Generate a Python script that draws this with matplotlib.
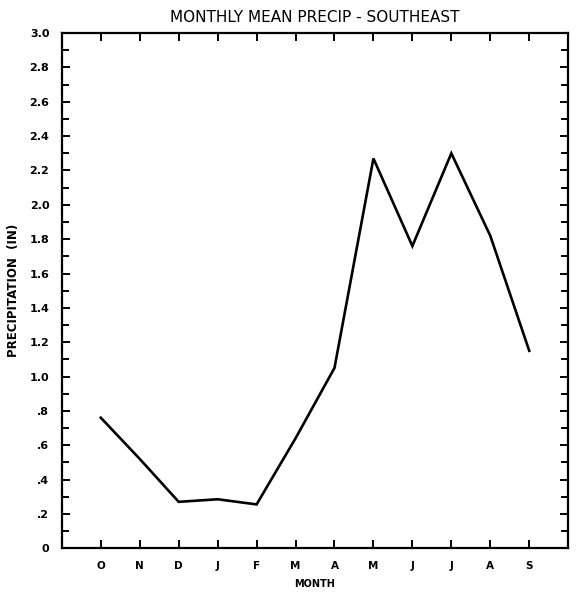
#!/usr/bin/env python3
"""Monthly mean precipitation for the southeast region, water-year order."""

import matplotlib

matplotlib.use("Agg")
import matplotlib.pyplot as plt
from matplotlib.ticker import FixedLocator, MultipleLocator

months = ["O", "N", "D", "J", "F", "M", "A", "M", "J", "J", "A", "S"]
precip_in = [0.76, 0.52, 0.27, 0.285, 0.255, 0.64, 1.05, 2.27, 1.76, 2.30, 1.82, 1.15]
y_ticks = [0.0, 0.2, 0.4, 0.6, 0.8, 1.0, 1.2, 1.4, 1.6, 1.8, 2.0, 2.2, 2.4, 2.6, 2.8, 3.0]
y_labels = ["0", ".2", ".4", ".6", ".8", "1.0", "1.2", "1.4", "1.6", "1.8",
            "2.0", "2.2", "2.4", "2.6", "2.8", "3.0"]

plt.rcParams.update({
    "font.family": "DejaVu Sans",
    "font.weight": "bold",
})

fig = plt.figure(figsize=(5.78, 5.92), dpi=100)
ax = fig.add_axes([0.107, 0.074, 0.876, 0.870])

x = list(range(1, len(months) + 1))
ax.plot(x, precip_in, color="black", lw=1.9, solid_joinstyle="miter")

ax.set_xlim(0, 13)
ax.set_ylim(0, 3.0)

ax.xaxis.set_major_locator(FixedLocator(x))
ax.set_xticklabels(months, fontsize=7.5, fontweight="bold")
ax.yaxis.set_major_locator(FixedLocator(y_ticks))
ax.set_yticklabels(y_labels, fontsize=8, fontweight="bold")
ax.yaxis.set_minor_locator(MultipleLocator(0.1))

ax.tick_params(axis="both", which="both", direction="in", top=True, right=True,
               width=1.4, color="black")
ax.tick_params(axis="both", which="major", length=6, pad=9)
ax.tick_params(axis="y", which="minor", length=5)

for s in ax.spines.values():
    s.set_linewidth(1.6)

ax.set_xlabel("MONTH", fontsize=7, fontweight="bold", labelpad=6)
ax.set_ylabel("PRECIPITATION  (IN)", fontsize=8.5, fontweight="bold")
ax.yaxis.set_label_coords(-0.082, 0.5)
ax.set_title("MONTHLY MEAN PRECIP - SOUTHEAST", fontsize=11, fontweight="normal", pad=8)

fig.savefig("out.png", dpi=100)
plt.close(fig)
